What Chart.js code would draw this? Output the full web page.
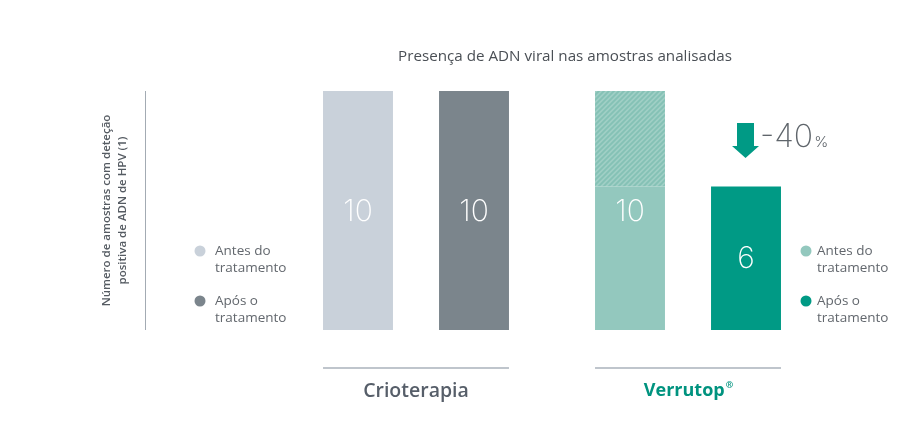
<!DOCTYPE html>
<html>
<head>
<meta charset="utf-8">
<script src="https://cdn.jsdelivr.net/npm/chart.js@4/dist/chart.umd.min.js"></script>
<style>
html,body{margin:0;padding:0;background:#fff;}
#wrap{position:relative;width:919px;height:439px;}
</style>
</head>
<body>
<div id="wrap"><canvas id="c" width="919" height="439"></canvas></div>
<script>
// ---- data ----
const categories = ['Crioterapia', 'Verrutop'];
const categorySuffix = ['', '®'];
const legendLabels = ['Antes do tratamento', 'Após o tratamento'];
const antesParteSolida = [10, 6];
const antesParteTracejada = [0, 4];
const aposTratamento = [10, 6];
const antesTotal = [10, 10];
const reducaoTexto = ['', '-40'];
const chartTitle = 'Presença de ADN viral nas amostras analisadas';
const yTitleLines = ['Número de amostras com deteção', 'positiva de ADN de HPV (1)'];

// ---- styles ----
const FONT = '"Open Sans", Lato, sans-serif';
const colAntes = ['#c9d1da', '#93c8be'];
const colApos = ['#7b858c', '#009a85'];
const teal = '#009a85';

function hatchPattern() {
  const s = 5;
  const cv = document.createElement('canvas');
  cv.width = s; cv.height = s;
  const g = cv.getContext('2d');
  g.fillStyle = '#9fcfc5';
  g.fillRect(0, 0, s, s);
  g.strokeStyle = '#84c1b5';
  g.lineWidth = 1.8;
  g.beginPath();
  g.moveTo(-1, s + 1); g.lineTo(s + 1, -1);
  g.moveTo(-s / 2 - 1, s / 2 + 1); g.lineTo(s / 2 + 1, -s / 2 - 1);
  g.moveTo(s / 2 - 1, s * 1.5 + 1); g.lineTo(s * 1.5 + 1, s / 2 - 1);
  g.stroke();
  return document.getElementById('c').getContext('2d').createPattern(cv, 'repeat');
}

const decor = {
  id: 'decor',
  beforeDraw(chart) {
    const ctx = chart.ctx;
    const ca = chart.chartArea;
    const y = chart.scales.y;
    ctx.save();
    // title
    ctx.fillStyle = '#4a4f55';
    ctx.font = '15.2px ' + FONT;
    ctx.textAlign = 'center';
    ctx.textBaseline = 'middle';
    ctx.fillText(chartTitle, (ca.left + ca.right) / 2 + 13, 57);
    // y axis line
    const top = y.getPixelForValue(10), bot = y.getPixelForValue(0);
    ctx.strokeStyle = '#a3abb3';
    ctx.lineWidth = 1;
    ctx.beginPath();
    ctx.moveTo(145.5, top); ctx.lineTo(145.5, bot);
    ctx.stroke();
    // y title
    ctx.translate(115, (top + bot) / 2);
    ctx.rotate(-Math.PI / 2);
    ctx.fillStyle = '#555b62';
    ctx.font = '600 11.5px ' + FONT;
    ctx.fillText(yTitleLines[0], 0, -8);
    ctx.fillText(yTitleLines[1], 0, 8);
    ctx.restore();

    // legends
    ctx.save();
    ctx.font = '13.5px ' + FONT;
    ctx.textAlign = 'left';
    ctx.textBaseline = 'middle';
    const legends = [
      { cx: 200, tx: 215, cols: [colAntes[0], colApos[0]] },
      { cx: 806, tx: 817, cols: [colAntes[1], colApos[1]] }
    ];
    legends.forEach(L => {
      [251, 301].forEach((ly, k) => {
        ctx.fillStyle = L.cols[k];
        ctx.beginPath(); ctx.arc(L.cx, ly, 5.5, 0, Math.PI * 2); ctx.fill();
        ctx.fillStyle = '#62676d';
        const words = legendLabels[k].split(' ');
        const l1 = words.slice(0, words.length - 1).join(' ');
        const l2 = words[words.length - 1];
        ctx.fillText(l1, L.tx, ly);
        ctx.fillText(l2, L.tx, ly + 17);
      });
    });
    ctx.restore();
  },
  afterDatasetsDraw(chart) {
    const ctx = chart.ctx;
    const mA = chart.getDatasetMeta(0), mP = chart.getDatasetMeta(2);
    const y = chart.scales.y;
    const x = chart.scales.x;
    ctx.save();
    // group underlines + category labels
    categories.forEach((c, i) => {
      const a = mA.data[i], p = mP.data[i];
      ctx.strokeStyle = '#aab2bb';
      ctx.lineWidth = 1.5;
      ctx.beginPath();
      ctx.moveTo(a.x - a.width / 2, 368);
      ctx.lineTo(p.x + p.width / 2, 368);
      ctx.stroke();
      const cx = x.getPixelForValue(i);
      ctx.textBaseline = 'middle';
      if (i === 1) {
        ctx.font = '700 18px ' + FONT;
        ctx.fillStyle = '#00937f';
        const w = ctx.measureText(c).width;
        ctx.font = '700 9px ' + FONT;
        const ws = ctx.measureText(categorySuffix[i]).width;
        const x0 = cx - (w + ws) / 2;
        ctx.textAlign = 'left';
        ctx.font = '700 18px ' + FONT;
        ctx.fillText(c, x0, 391);
        ctx.font = '700 9px ' + FONT;
        ctx.fillText(categorySuffix[i], x0 + w + 1, 385);
      } else {
        ctx.font = '600 19.5px ' + FONT;
        ctx.fillStyle = '#565e69';
        ctx.textAlign = 'center';
        ctx.fillText(c + categorySuffix[i], cx, 391);
      }
    });
    // value labels
    ctx.fillStyle = '#ffffff';
    ctx.font = '200 30px Inter, ' + FONT;
    ctx.textAlign = 'center';
    ctx.textBaseline = 'middle';
    categories.forEach((c, i) => {
      const a = mA.data[i], p = mP.data[i];
      ctx.fillText(String(antesTotal[i]), a.x, (y.getPixelForValue(antesTotal[i]) + y.getPixelForValue(0)) / 2 + 1);
      ctx.fillText(String(aposTratamento[i]), p.x, (y.getPixelForValue(aposTratamento[i]) + y.getPixelForValue(0)) / 2 + 1);
    });
    // reduction arrow
    categories.forEach((c, i) => {
      if (!reducaoTexto[i]) return;
      const p = mP.data[i];
      const ax = p.x - 1;
      ctx.fillStyle = teal;
      ctx.beginPath();
      ctx.moveTo(ax - 8, 123);
      ctx.lineTo(ax + 9, 123);
      ctx.lineTo(ax + 9, 146);
      ctx.lineTo(ax + 14, 146);
      ctx.lineTo(ax + 0.5, 158);
      ctx.lineTo(ax - 13, 146);
      ctx.lineTo(ax - 8, 146);
      ctx.closePath();
      ctx.fill();
      ctx.fillStyle = '#5f656b';
      ctx.textAlign = 'left';
      ctx.textBaseline = 'alphabetic';
      ctx.font = '200 32px Inter, ' + FONT;
      ctx.fillText(reducaoTexto[i], ax + 15, 147);
      const w = ctx.measureText(reducaoTexto[i]).width;
      ctx.font = '300 15px Inter, ' + FONT;
      ctx.fillText('%', ax + 16 + w, 147);
    });
    ctx.restore();
  }
};

const pattern = hatchPattern();

new Chart(document.getElementById('c'), {
  type: 'bar',
  data: {
    labels: categories.map((c, i) => c + categorySuffix[i]),
    datasets: [
      { label: legendLabels[0], data: antesParteSolida, backgroundColor: colAntes, stack: 'antes' },
      { label: legendLabels[0] + ' (redução)', data: antesParteTracejada, backgroundColor: pattern, stack: 'antes' },
      { label: legendLabels[1], data: aposTratamento, backgroundColor: colApos, stack: 'apos' }
    ]
  },
  options: {
    responsive: false,
    animation: false,
    devicePixelRatio: 1,
    categoryPercentage: 0.853,
    barPercentage: 0.603,
    layout: { padding: { left: 280, right: 95, top: 91, bottom: 109 } },
    plugins: { legend: { display: false }, tooltip: { enabled: false }, title: { display: false } },
    scales: {
      x: { display: false },
      y: { display: false, stacked: true, min: 0, max: 10 }
    }
  },
  plugins: [decor]
});
</script>
</body>
</html>
